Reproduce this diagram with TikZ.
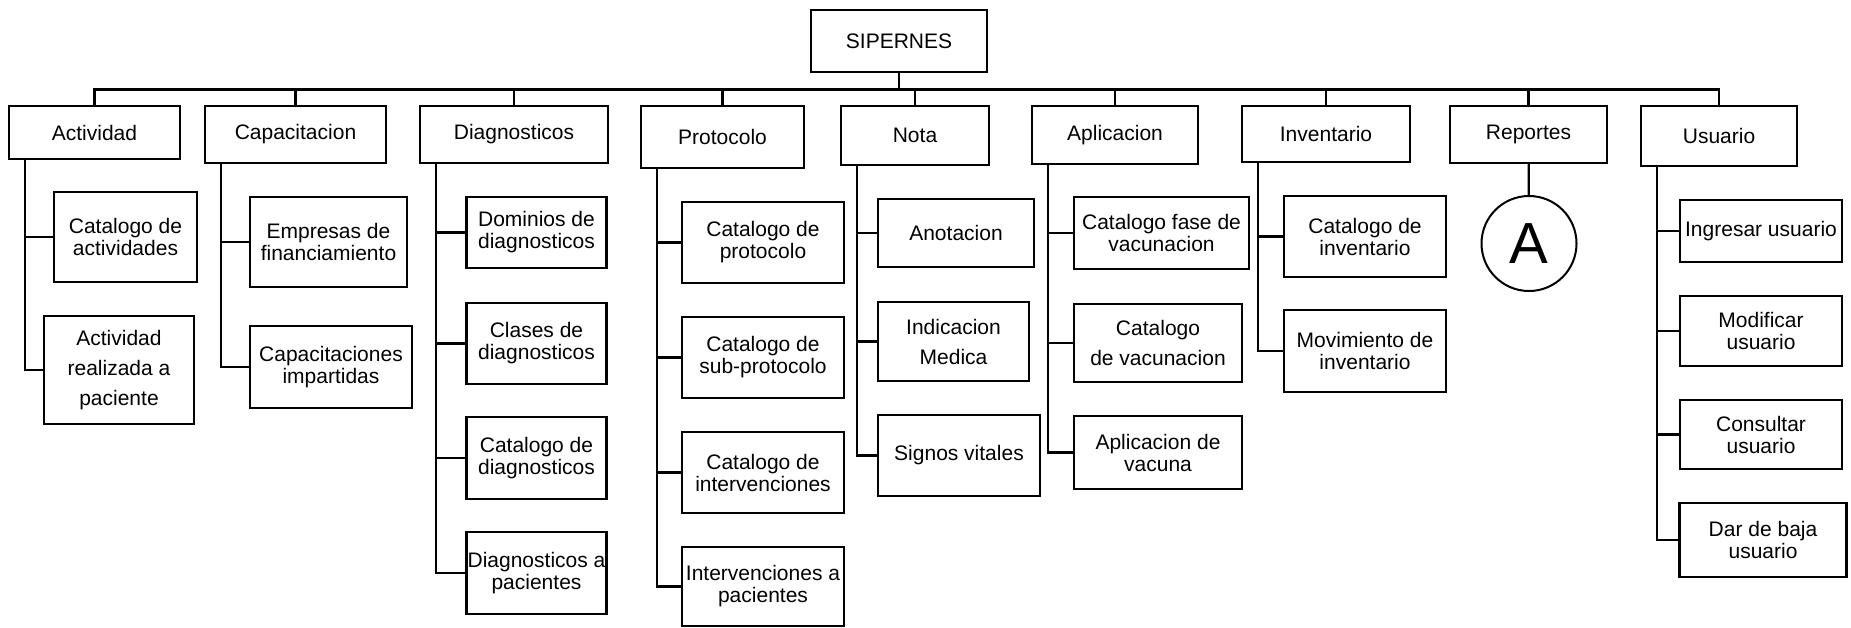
\documentclass[tikz,border=0pt]{standalone}
\usepackage{fontspec}
\setmainfont{Liberation Sans}
\usepackage{tikz}
\usetikzlibrary{positioning, calc}

\begin{document}
\begin{tikzpicture}[x=1pt, y=-1pt,
  box/.style={draw, line width=2.2pt, align=center, inner sep=0pt,
    font=\fontsize{21}{22}\selectfont},
  bus/.style={line width=2.8pt},
  link/.style={line width=2.2pt}]
  \useasboundingbox (0,0) rectangle (1851,627);

  % Root
  \node[box, minimum width=176, minimum height=62] (root) at (899,41) {SIPERNES};

  % Modules
  \node[box, minimum width=171, minimum height=53] (act)  at (94.5,132.5) {Actividad};
  \node[box, minimum width=181, minimum height=57] (cap)  at (295.5,134.5) {Capacitacion};
  \node[box, minimum width=188, minimum height=57] (dia)  at (514,134.5) {Diagnosticos};
  \node[box, minimum width=163, minimum height=62] (pro)  at (722.5,137) {Protocolo};
  \node[box, minimum width=148, minimum height=59] (nota) at (915,135.5) {Nota};
  \node[box, minimum width=166, minimum height=58] (apl)  at (1115,135) {Aplicacion};
  \node[box, minimum width=168, minimum height=56] (inv)  at (1326,134) {Inventario};
  \node[box, minimum width=157, minimum height=57] (rep)  at (1528.5,134.5) {Reportes};
  \node[box, minimum width=156, minimum height=60] (usu)  at (1719,136) {Usuario};

  % Actividad
  \node[box, minimum width=143, minimum height=90] (act1) at (125.5,237) {Catalogo de\\actividades};
  \node[box, minimum width=150, minimum height=108] (act2) at (119,370) {Actividad\\[8pt]realizada a\\[8pt]paciente};

  % Capacitacion
  \node[box, minimum width=157, minimum height=90] (cap1) at (328.5,242) {Empresas de\\financiamiento};
  \node[box, minimum width=162, minimum height=82] (cap2) at (331,367) {Capacitaciones\\impartidas};

  % Diagnosticos
  \node[box, minimum width=140, minimum height=71] (dia1) at (536.5,232.5) {Dominios de\\diagnosticos};
  \node[box, minimum width=140, minimum height=81] (dia2) at (536.5,343.5) {Clases de\\diagnosticos};
  \node[box, minimum width=140, minimum height=82] (dia3) at (536.5,458) {Catalogo de\\diagnosticos};
  \node[box, minimum width=140, minimum height=82] (dia4) at (536.5,573) {Diagnosticos a\\pacientes};

  % Protocolo
  \node[box, minimum width=162, minimum height=81] (pro1) at (763,242.5) {Catalogo de\\protocolo};
  \node[box, minimum width=162, minimum height=81] (pro2) at (763,357.5) {Catalogo de\\sub-protocolo};
  \node[box, minimum width=162, minimum height=81] (pro3) at (763,472.5) {Catalogo de\\intervenciones};
  \node[box, minimum width=162, minimum height=79] (pro4) at (763,586.5) {Intervenciones a\\pacientes};

  % Nota
  \node[box, minimum width=156, minimum height=68] (nota1) at (956,233) {Anotacion};
  \node[box, minimum width=151, minimum height=79] (nota2) at (953.5,341.5) {Indicacion\\[8pt]Medica};
  \node[box, minimum width=162, minimum height=81] (nota3) at (959,455.5) {Signos vitales};

  % Aplicacion
  \node[box, minimum width=175, minimum height=72] (apl1) at (1161.5,233) {Catalogo fase de\\vacunacion};
  \node[box, minimum width=168, minimum height=78] (apl2) at (1158,343) {Catalogo\\[8pt]de vacunacion};
  \node[box, minimum width=168, minimum height=73] (apl3) at (1158,452.5) {Aplicacion de\\vacuna};

  % Inventario
  \node[box, minimum width=162, minimum height=81] (inv1) at (1365,236.5) {Catalogo de\\inventario};
  \node[box, minimum width=162, minimum height=82] (inv2) at (1365,351) {Movimiento de\\inventario};

  % Reportes
  \node[draw, circle, line width=2pt, minimum size=95, inner sep=0pt,
    font=\fontsize{58}{60}\selectfont] (repA) at (1529,243.5) {A};

  % Usuario
  \node[box, minimum width=162, minimum height=62] (usu1) at (1761,231) {Ingresar usuario};
  \node[box, minimum width=162, minimum height=70] (usu2) at (1761,331) {Modificar\\usuario};
  \node[box, minimum width=162, minimum height=69] (usu3) at (1761,434.5) {Consultar\\usuario};
  \node[box, minimum width=167, minimum height=74] (usu4) at (1763,540) {Dar de baja\\usuario};

  % Connectors
  \foreach \n in {act,cap,dia,pro,nota,apl,inv,rep,usu}
    \draw[bus] (root.south) -- ++(0,16) -| (\n.north);

  \foreach \p/\c in {act/act1, act/act2, cap/cap1, cap/cap2,
      dia/dia1, dia/dia2, dia/dia3, dia/dia4,
      pro/pro1, pro/pro2, pro/pro3, pro/pro4,
      nota/nota1, nota/nota2, nota/nota3,
      apl/apl1, apl/apl2, apl/apl3, inv/inv1, inv/inv2,
      usu/usu1, usu/usu2, usu/usu3, usu/usu4}
    \draw[link] ([xshift=17pt]\p.south west) |- (\c.west);

  \draw[link] (rep) -- (repA);
\end{tikzpicture}
\end{document}
